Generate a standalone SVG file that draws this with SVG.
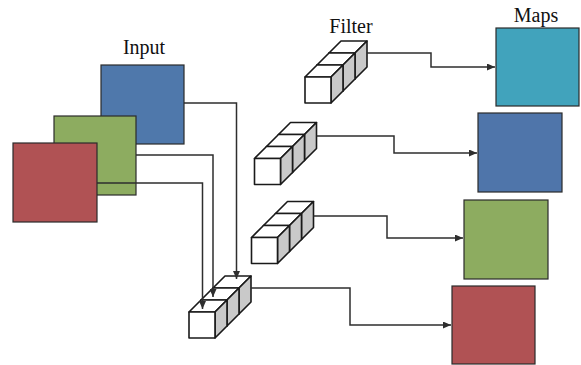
<svg xmlns="http://www.w3.org/2000/svg" xmlns:xlink="http://www.w3.org/1999/xlink" width="581" height="365" viewBox="0 0 581 365">
<style>
.lbl{font-family:"Liberation Serif","Times New Roman",serif;font-size:20px;fill:#111;text-anchor:middle}
.sq{stroke:#2b2b2b;stroke-width:1.2}
.conn{fill:none;stroke:#2e2e2e;stroke-width:1.5}
.cf{fill:#fff;stroke:#1a1a1a;stroke-width:1.6;stroke-linejoin:round}
.cs{fill:#c9c9c9;stroke:#1a1a1a;stroke-width:1.6;stroke-linejoin:round}
</style>
<defs>
<marker id="ah" markerUnits="userSpaceOnUse" markerWidth="9" markerHeight="7" refX="8" refY="3.5" orient="auto">
<path d="M0,0 L8,3.5 L0,7 z" fill="#2e2e2e"/>
</marker>
<g id="filterShape">
<rect class="cf" x="24" y="-24" width="26" height="26"/>
<polygon class="cf" points="24,-24 36,-36 62,-36 50,-24"/>
<polygon class="cs" points="50,-24 62,-36 62,-10 50,2"/>
<rect class="cf" x="12" y="-12" width="26" height="26"/>
<polygon class="cf" points="12,-12 24,-24 50,-24 38,-12"/>
<polygon class="cs" points="38,-12 50,-24 50,2 38,14"/>
<polygon class="cf" points="0,0 12,-12 38,-12 26,0"/>
<polygon class="cs" points="26,0 38,-12 38,14 26,26"/>
<rect class="cf" x="0" y="0" width="26" height="26"/>
</g>
</defs>
<rect width="581" height="365" fill="#fff"/>

<text class="lbl" x="144" y="54">Input</text>
<text class="lbl" x="351" y="33">Filter</text>
<text class="lbl" x="536" y="22">Maps</text>

<g id="input-blue"><rect class="sq" x="101" y="65" width="83" height="79" fill="#4f78ab"/></g>
<g id="input-green"><rect class="sq" x="54" y="116" width="82" height="79" fill="#8dac60"/></g>
<g id="input-red"><rect class="sq" x="13" y="143" width="84" height="79" fill="#b05254"/></g>

<g id="filter-1"><use xlink:href="#filterShape" href="#filterShape" transform="translate(305,77)"/></g>
<g id="filter-2"><use xlink:href="#filterShape" href="#filterShape" transform="translate(254.5,158.5)"/></g>
<g id="filter-3"><use xlink:href="#filterShape" href="#filterShape" transform="translate(251.5,237.5)"/></g>
<g id="filter-4"><use xlink:href="#filterShape" href="#filterShape" transform="translate(189,312)"/></g>

<g id="map-teal"><rect class="sq" x="496" y="28" width="83" height="78" fill="#41a3bc"/></g>
<g id="map-blue"><rect class="sq" x="478" y="113" width="84" height="79" fill="#4f75aa"/></g>
<g id="map-green"><rect class="sq" x="464" y="200" width="84" height="79" fill="#8dac60"/></g>
<g id="map-red"><rect class="sq" x="452" y="286" width="83" height="78" fill="#b05254"/></g>

<g id="connectors">
<path class="conn" marker-end="url(#ah)" d="M184,103 H236.5 V279"/>
<path class="conn" marker-end="url(#ah)" d="M136,155 H213 V297"/>
<path class="conn" marker-end="url(#ah)" d="M97,183 H202.5 V309"/>
<path class="conn" marker-end="url(#ah)" d="M367,53 H431 V67 H495"/>
<path class="conn" marker-end="url(#ah)" d="M316.5,136 H394 V153 H477"/>
<path class="conn" marker-end="url(#ah)" d="M313.5,216 H387 V238 H463"/>
<path class="conn" marker-end="url(#ah)" d="M251,288 H350 V325 H451"/>
</g>
</svg>
